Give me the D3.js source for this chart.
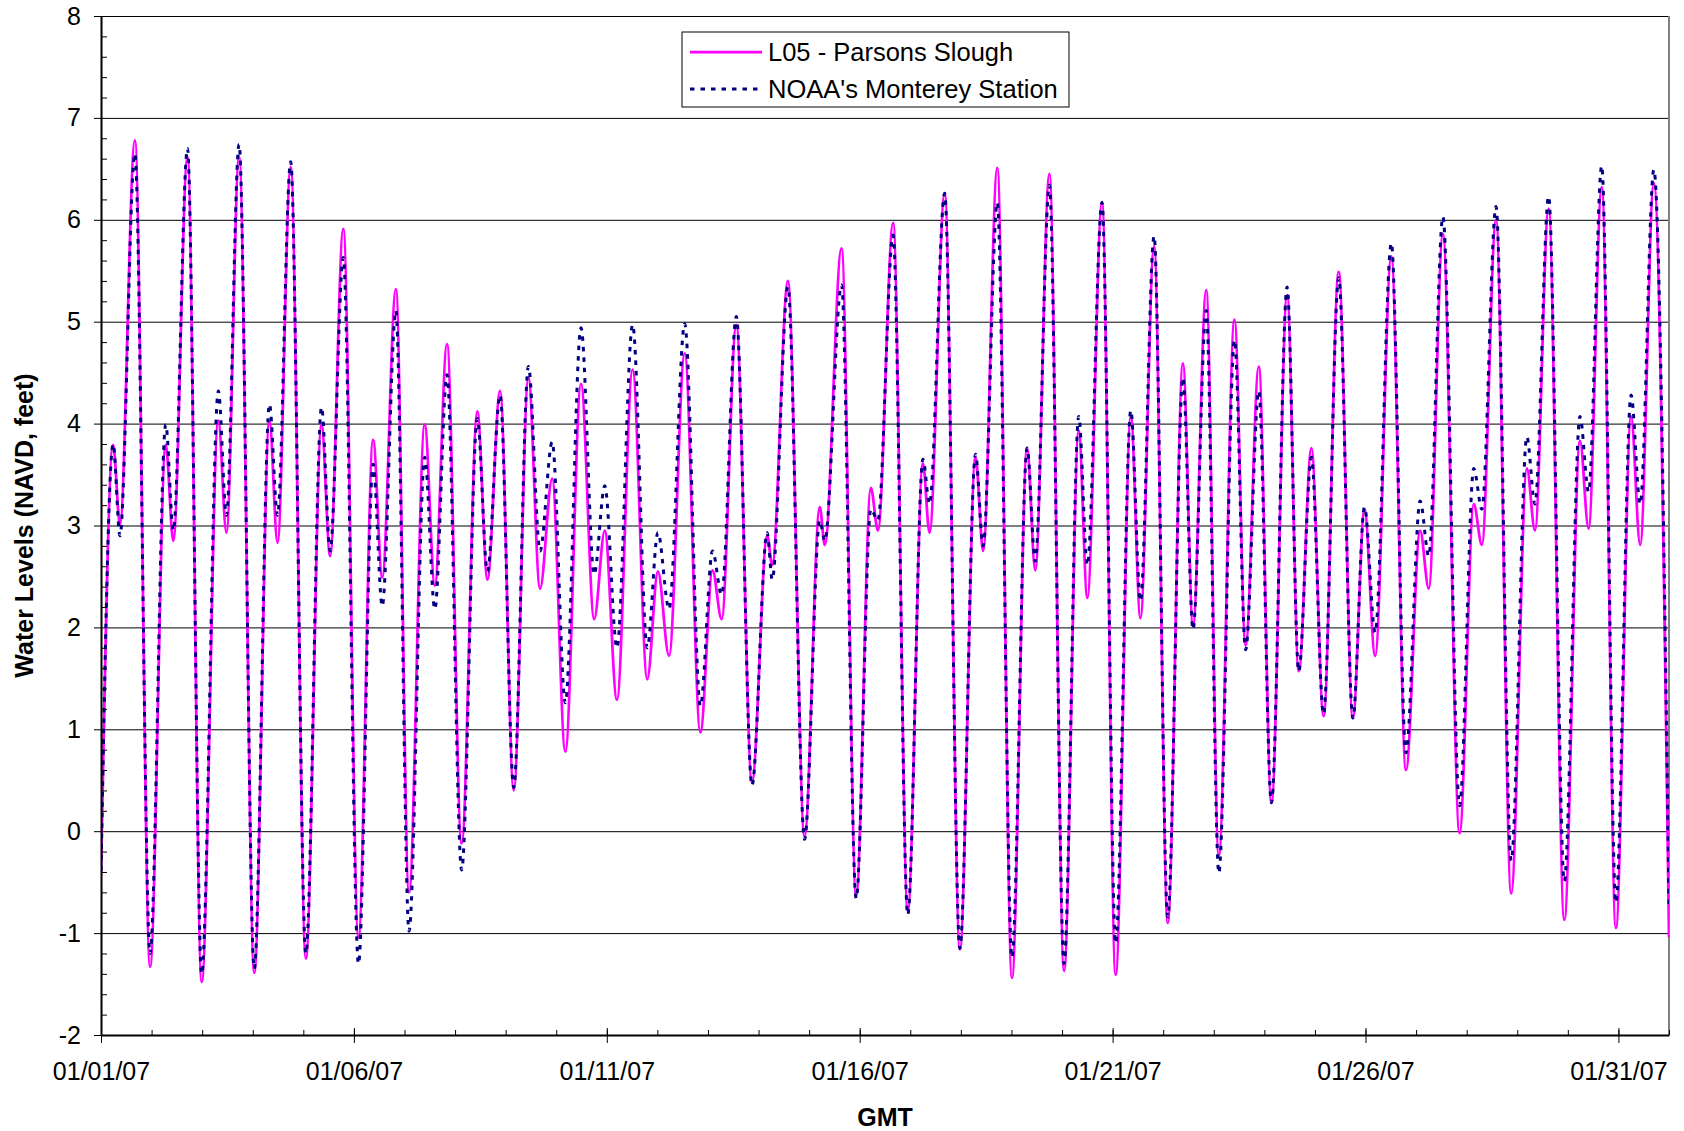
<!DOCTYPE html>
<html>
<head>
<meta charset="utf-8">
<script src="https://cdn.jsdelivr.net/npm/d3@7"></script>
<style>
  body { margin: 0; background: #fff; }
  text { font-family: "Liberation Sans", Arial, sans-serif; fill: #000; }
</style>
</head>
<body>
<svg id="chart" width="1684" height="1131"></svg>
<script>
// tide turning points, days after 01/01/07 00:00 GMT
var tideDays = [
  0.00, 0.24, 0.375, 0.67, 0.97,
  1.28, 1.43, 1.71, 1.99,
  2.32, 2.48, 2.73, 3.03,
  3.33, 3.49, 3.75, 4.05,
  4.36, 4.53, 4.79, 5.09,
  5.38, 5.56, 5.83, 6.09,
  6.40, 6.60, 6.84, 7.13,
  7.44, 7.64, 7.89, 8.16,
  8.45, 8.68, 8.92, 9.18,
  9.49, 9.75, 9.96, 10.20,
  10.51, 10.80, 11.01, 11.23,
  11.54, 11.85, 12.09, 12.27,
  12.56, 12.87, 13.17, 13.27,
  13.58, 13.91, 14.21, 14.31,
  14.64, 14.93, 15.22, 15.36,
  15.66, 15.95, 16.25, 16.38,
  16.68, 16.98, 17.29, 17.44,
  17.72, 18.01, 18.31, 18.47,
  18.75, 19.04, 19.33, 19.50,
  19.79, 20.06, 20.36, 20.55,
  20.82, 21.09, 21.39, 21.59,
  21.85, 22.10, 22.41, 22.63,
  22.89, 23.14, 23.45, 23.68,
  23.93, 24.17, 24.47, 24.75,
  24.98, 25.19, 25.51, 25.80,
  26.08, 26.25, 26.53, 26.86,
  27.14, 27.30, 27.58, 27.88,
  28.19, 28.35, 28.62, 28.93,
  29.24, 29.41, 29.67, 29.95,
  30.25, 30.43, 30.70, 31.00
];

// L05 - Parsons Slough (feet NAVD)
var l05Feet = [
  -0.44, 3.79, 3.01, 6.78, -1.33,
  3.79, 2.85, 6.62, -1.48,
  4.03, 2.93, 6.62, -1.39,
  4.03, 2.83, 6.52, -1.25,
  3.99, 2.70, 5.91, -1.04,
  3.84, 2.49, 5.32, -0.60,
  3.99, 2.41, 4.78, -0.12,
  4.12, 2.47, 4.32, 0.40,
  4.45, 2.38, 3.46, 0.78,
  4.39, 2.08, 2.95, 1.29,
  4.53, 1.49, 2.55, 1.72,
  4.69, 0.97, 2.56, 2.08,
  4.97, 0.48, 2.90, 2.61,
  5.40, -0.05, 3.18, 2.81,
  5.72, -0.64, 3.37, 2.95,
  5.97, -0.78, 3.61, 2.93,
  6.26, -1.16, 3.67, 2.75,
  6.51, -1.44, 3.76, 2.56,
  6.45, -1.37, 3.93, 2.29,
  6.17, -1.41, 4.07, 2.09,
  5.74, -0.90, 4.59, 2.01,
  5.31, -0.24, 5.02, 1.82,
  4.56, 0.28, 5.26, 1.57,
  3.76, 1.13, 5.49, 1.11,
  3.16, 1.72, 5.64, 0.60,
  2.95, 2.38, 5.86, -0.02,
  3.21, 2.81, 6.00, -0.61,
  3.56, 2.95, 6.11, -0.87,
  3.83, 2.97, 6.32, -0.95,
  4.07, 2.81, 6.36, -1.04
];

// NOAA's Monterey Station (feet NAVD)
var noaaFeet = [
  -0.38, 3.80, 2.90, 6.65, -1.20,
  3.99, 2.95, 6.70, -1.40,
  4.32, 3.10, 6.74, -1.35,
  4.19, 3.10, 6.57, -1.20,
  4.16, 2.75, 5.63, -1.30,
  3.60, 2.21, 5.11, -0.98,
  3.67, 2.18, 4.48, -0.38,
  4.05, 2.55, 4.28, 0.43,
  4.56, 2.75, 3.82, 1.26,
  4.94, 2.52, 3.39, 1.80,
  4.97, 1.80, 2.93, 2.18,
  4.98, 1.23, 2.75, 2.32,
  5.05, 0.45, 2.93, 2.47,
  5.34, -0.08, 3.05, 2.85,
  5.36, -0.66, 3.16, 3.05,
  5.85, -0.82, 3.65, 3.21,
  6.26, -1.15, 3.70, 2.80,
  6.17, -1.24, 3.76, 2.65,
  6.34, -1.30, 4.07, 2.61,
  6.17, -1.10, 4.13, 2.26,
  5.84, -0.84, 4.45, 1.98,
  5.11, -0.41, 4.82, 1.78,
  4.32, 0.28, 5.34, 1.57,
  3.67, 1.15, 5.43, 1.11,
  3.18, 1.95, 5.77, 0.77,
  3.24, 2.70, 6.03, 0.25,
  3.56, 3.16, 6.13, -0.29,
  3.87, 3.21, 6.23, -0.49,
  4.07, 3.33, 6.53, -0.70,
  4.28, 3.21, 6.49, -0.72
];

var seriesNames = ["L05 - Parsons Slough", "NOAA's Monterey Station"];
var yTickValues = [-2, -1, 0, 1, 2, 3, 4, 5, 6, 7, 8];
var xTickLabels = ["01/01/07", "01/06/07", "01/11/07", "01/16/07", "01/21/07", "01/26/07", "01/31/07"];

var t0 = Date.UTC(2007, 0, 1);
function dayToDate(d) { return new Date(t0 + d * 864e5); }

var plotLeft = 101, plotRight = 1669, plotTop = 16, plotBottom = 1035;
var svg = d3.select("#chart");

var x = d3.scaleUtc()
  .domain([dayToDate(0), dayToDate(31)])
  .range([plotLeft, plotRight]);
var y = d3.scaleLinear().domain([-2, 8]).range([plotBottom, plotTop]);

svg.append("rect").attr("width", 1684).attr("height", 1131).attr("fill", "#fff");

// gridlines
svg.append("g")
  .attr("transform", "translate(" + plotLeft + ",0)")
  .call(d3.axisLeft(y).tickValues(yTickValues.filter(function (v) { return v > -2; }))
    .tickSize(-(plotRight - plotLeft)).tickFormat(""))
  .call(function (g) {
    g.select(".domain").remove();
    g.selectAll("line").attr("stroke", "#000").attr("stroke-width", 1);
  });

// right border of the plot area
svg.append("line")
  .attr("x1", plotRight).attr("x2", plotRight)
  .attr("y1", plotTop).attr("y2", plotBottom)
  .attr("stroke", "#808080").attr("stroke-width", 2);

// series
svg.append("clipPath").attr("id", "plotclip")
  .append("rect").attr("x", plotLeft).attr("y", plotTop)
  .attr("width", plotRight - plotLeft).attr("height", plotBottom - plotTop);

var line = d3.line()
  .x(function (d) { return x(dayToDate(d[0])); })
  .y(function (d) { return y(d[1]); })
  .curve(d3.curveMonotoneX);

var l05Data = tideDays.map(function (d, i) { return [d, l05Feet[i]]; });
var noaaData = tideDays.map(function (d, i) { return [d, noaaFeet[i]]; });

var plot = svg.append("g").attr("clip-path", "url(#plotclip)");
plot.append("path")
  .datum(l05Data)
  .attr("d", line)
  .attr("fill", "none")
  .attr("stroke", "#ff00ff")
  .attr("stroke-width", 2.75)
  .attr("stroke-linejoin", "round");
plot.append("path")
  .datum(noaaData)
  .attr("d", line)
  .attr("fill", "none")
  .attr("stroke", "#000080")
  .attr("stroke-width", 3)
  .attr("stroke-dasharray", "4.5,6");

// y axis
var minorY = d3.range(-2, 8.001, 0.2).map(function (v) { return +v.toFixed(1); })
  .filter(function (v) { return Math.abs(v - Math.round(v)) > 0.01; });

svg.append("g")
  .attr("transform", "translate(" + plotLeft + ",0)")
  .call(d3.axisRight(y).tickValues(minorY).tickSize(6).tickFormat(""))
  .call(function (g) {
    g.select(".domain").remove();
    g.selectAll("line").attr("stroke", "#000");
  });

var yAxis = svg.append("g")
  .attr("transform", "translate(" + plotLeft + ",0)")
  .call(d3.axisLeft(y).tickValues(yTickValues).tickSize(7).tickSizeOuter(0).tickPadding(13)
    .tickFormat(function (d) { return String(d); }));
yAxis.select(".domain").attr("stroke", "#000").attr("stroke-width", 2);
yAxis.selectAll(".tick line").attr("stroke", "#000");
yAxis.selectAll("text").attr("font-size", 25).attr("font-family", null).attr("fill", "#000");

// x axis
var dayTicks = d3.range(0, 32).map(dayToDate);
var majorDays = [0, 5, 10, 15, 20, 25, 30];

svg.append("g")
  .attr("transform", "translate(0," + plotBottom + ")")
  .call(d3.axisTop(x).tickValues(dayTicks).tickSize(5).tickFormat(""))
  .call(function (g) {
    g.select(".domain").remove();
    g.selectAll("line").attr("stroke", "#000");
  });

var xAxis = svg.append("g")
  .attr("transform", "translate(0," + plotBottom + ")")
  .call(d3.axisBottom(x).tickValues(majorDays.map(dayToDate)).tickSize(8).tickSizeOuter(0).tickPadding(19)
    .tickFormat(function (d, i) { return xTickLabels[i]; }));
xAxis.select(".domain").attr("stroke", "#000").attr("stroke-width", 2);
xAxis.selectAll(".tick line").attr("stroke", "#000").attr("y1", -7);
xAxis.selectAll("text").attr("font-size", 25).attr("font-family", null).attr("fill", "#000");

// axis titles
svg.append("text")
  .attr("transform", "translate(33," + ((plotTop + plotBottom) / 2) + ") rotate(-90)")
  .attr("text-anchor", "middle")
  .attr("font-size", 25)
  .attr("font-weight", "bold")
  .text("Water Levels (NAVD, feet)");

svg.append("text")
  .attr("x", (plotLeft + plotRight) / 2)
  .attr("y", 1126)
  .attr("text-anchor", "middle")
  .attr("font-size", 25)
  .attr("font-weight", "bold")
  .text("GMT");

// legend
var legend = svg.append("g").attr("transform", "translate(682,32)");
legend.append("rect")
  .attr("width", 387).attr("height", 75)
  .attr("fill", "#fff").attr("stroke", "#000").attr("stroke-width", 1);
var legendStyles = [
  { stroke: "#ff00ff", width: 2.75, dash: null },
  { stroke: "#000080", width: 3, dash: "4.5,6" }
];
seriesNames.forEach(function (name, i) {
  var cy = 20 + i * 37;
  legend.append("line")
    .attr("x1", 8).attr("x2", 80).attr("y1", cy).attr("y2", cy)
    .attr("stroke", legendStyles[i].stroke)
    .attr("stroke-width", legendStyles[i].width)
    .attr("stroke-dasharray", legendStyles[i].dash);
  legend.append("text")
    .attr("x", 86).attr("y", cy + 9)
    .attr("font-size", 25.5)
    .text(name);
});
</script>
</body>
</html>
